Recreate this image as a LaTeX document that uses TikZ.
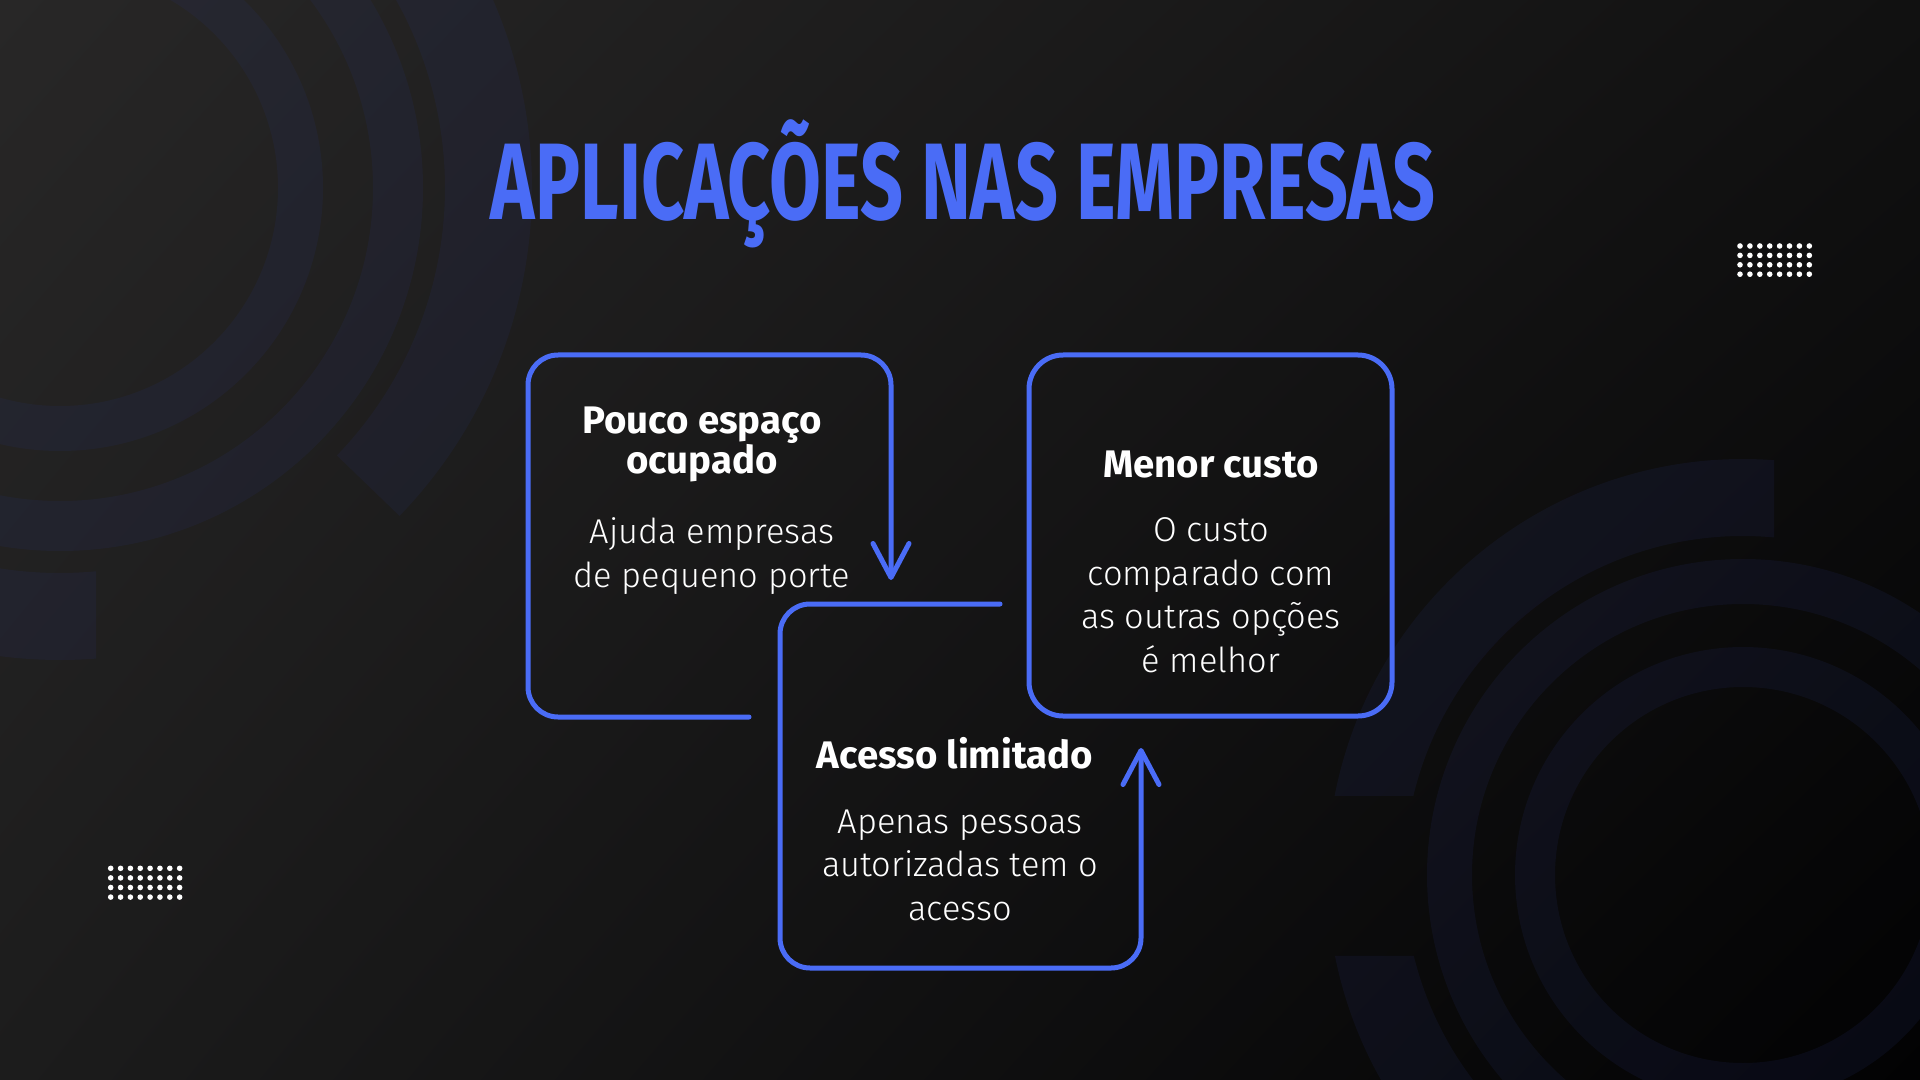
\documentclass[tikz,border=0pt]{standalone}
\usepackage{fontspec}
\setmainfont{Fira Sans}
\newfontfamily\lightfont{Fira Sans Light}
\usetikzlibrary{arrows.meta,calc,shadings}

\definecolor{slideblue}{RGB}{74,108,246}
\definecolor{ringblue}{RGB}{40,50,115}
\definecolor{bgtl}{RGB}{40,39,39}
\definecolor{bgtr}{RGB}{17,17,17}
\definecolor{bgbl}{RGB}{28,28,28}
\definecolor{bgbr}{RGB}{2,2,3}

\tikzset{
  ring/.style={fill=ringblue, fill opacity=0.15, even odd rule},
  sketch/.style={draw=slideblue, line width=2.5pt, line cap=round, line join=round, rounded corners=15pt},
  flow/.style={-{Straight Barb[length=17pt, width=18pt, round]}},
  slidetitle/.style={font=\fontsize{54.4pt}{60pt}\selectfont\bfseries, text=slideblue, anchor=base, inner sep=0pt},
  heading/.style={font=\fontsize{19.2pt}{20pt}\selectfont\bfseries, text=white, align=center, anchor=base, inner sep=0pt},
  body/.style={font=\lightfont\fontsize{17.2pt}{21.7pt}\selectfont, text=white, align=center, anchor=base, inner sep=0pt}
}

\begin{document}
\begin{tikzpicture}[x=0.5pt, y=-0.5pt]
        % Background
        \useasboundingbox (0,0) rectangle (1920,1080);
        \clip (0,0) rectangle (1920,1080);
        \shade[upper left=bgtl, upper right=bgtr, lower left=bgbl, lower right=bgbr] (0,0) rectangle (1920,1080);

        % Rings in the top left corner
        \coordinate (tl) at (60,188);
        \fill[ring] (tl) circle[radius=263] (tl) circle[radius=218];
        \fill[ring] (tl) circle[radius=363] (tl) circle[radius=313];
        \fill[ring] (tl) ++(44:472) arc[start angle=44, end angle=-274.4, radius=472]
            -- ($(tl)+(-275.4:385)$) arc[start angle=-275.4, end angle=44, radius=385] -- cycle;

        % Rings in the bottom right corner
        \coordinate (br) at (1743,875);
        \fill[ring] (br) circle[radius=228] (br) circle[radius=188];
        \fill[ring] (br) circle[radius=316] (br) circle[radius=271];
        \fill[ring] (br) ++(-85.7:416) arc[start angle=-85.7, end angle=-169.05, radius=416]
            -- ($(br)+(-166.52:339)$) arc[start angle=-166.52, end angle=-84.75, radius=339] -- cycle;
        \fill[ring] (br) ++(-191.2:416) arc[start angle=-191.2, end angle=-300, radius=416]
            -- ($(br)+(-300:339)$) arc[start angle=-300, end angle=-193.8, radius=339] -- cycle;

        % Dot grids
        \foreach \i in {0,...,7}
            \foreach \j in {0,...,3} {
                \fill[white] (1740+9.9*\i, 246+9.4*\j) circle[radius=2.8];
                \fill[white] (110.7+9.85*\i, 868.3+9.6*\j) circle[radius=2.8];
            }

        % Title
        \node[slidetitle] (title) at (963,220) {\resizebox{472pt}{\height}{APLICAÇÕES NAS EMPRESAS}};

        % First box, its arrow points down into the second one
        % (multi-line nodes sit on the baseline of their last line)
        \coordinate (espaco-end) at (749,717);
        \coordinate (espaco-tip) at (891,580);
        \draw[sketch, flow] (espaco-end) -- (528,717) -- (528,355) -- (891,355) -- (espaco-tip);
        \node[heading] (espaco-head) at (702,473) {Pouco espaço\\ocupado};
        \node[body] (espaco-text) at (712,587) {Ajuda empresas\\de pequeno porte};

        % Second box, its arrow points up into the third one
        \coordinate (acesso-end) at (1000,604);
        \coordinate (acesso-tip) at (1141,748);
        \draw[sketch, flow] (acesso-end) -- (780,604) -- (780,968) -- (1141,968) -- (acesso-tip);
        \node[heading] (acesso-head) at (955,768) {Acesso limitado};
        \node[body] (acesso-text) at (960,920) {Apenas pessoas\\autorizadas tem o\\acesso};

        % Third box
        \draw[sketch, rounded corners=17pt] (1029,355) rectangle (1392,716);
        \node[heading] (custo-head) at (1211,477) {Menor custo};
        \node[body] (custo-text) at (1211,672) {O custo\\comparado com\\as outras opções\\é melhor};
    \end{tikzpicture}
\end{document}
